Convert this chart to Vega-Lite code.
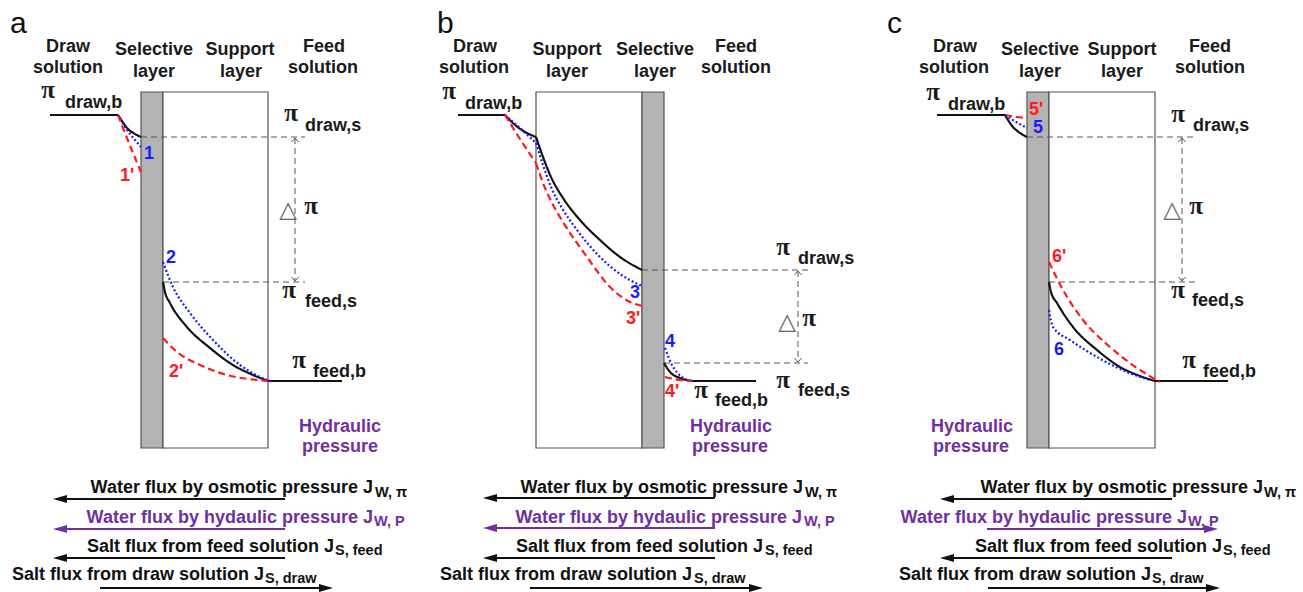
{
  "$schema": "https://vega.github.io/schema/vega-lite/v6.json",
  "width": 1303,
  "height": 592,
  "autosize": {"type": "fit", "contains": "padding"},
  "padding": 0,
  "background": "white",
  "config": {"view": {"stroke": null}},
  "datasets": {
    "boxes": [
      {"part": "selective", "x0": 141, "x1": 163, "y0": 92, "y1": 448},
      {"part": "support", "x0": 163, "x1": 268, "y0": 92, "y1": 448},
      {"part": "support", "x0": 536, "x1": 642, "y0": 92, "y1": 448},
      {"part": "selective", "x0": 642, "x1": 664, "y0": 92, "y1": 448},
      {"part": "selective", "x0": 1027, "x1": 1049, "y0": 92, "y1": 448},
      {"part": "support", "x0": 1049, "x1": 1155, "y0": 92, "y1": 448}
    ],
    "guides": [
      {"x0": 141, "x1": 305, "y0": 137, "y1": 137},
      {"x0": 163, "x1": 305, "y0": 282, "y1": 282},
      {"x0": 295, "x1": 295, "y0": 138, "y1": 281},
      {"x0": 642, "x1": 808, "y0": 270, "y1": 270},
      {"x0": 664, "x1": 808, "y0": 363, "y1": 363},
      {"x0": 798, "x1": 798, "y0": 271, "y1": 362},
      {"x0": 1027, "x1": 1195, "y0": 137, "y1": 137},
      {"x0": 1049, "x1": 1195, "y0": 282, "y1": 282},
      {"x0": 1182, "x1": 1182, "y0": 138, "y1": 281}
    ],
    "guideHeads": [
      {"g": "a_t", "x": 291.5, "y": 142}, {"g": "a_t", "x": 295, "y": 138}, {"g": "a_t", "x": 298.5, "y": 142},
      {"g": "a_b", "x": 291.5, "y": 277}, {"g": "a_b", "x": 295, "y": 281}, {"g": "a_b", "x": 298.5, "y": 277},
      {"g": "b_t", "x": 794.5, "y": 275}, {"g": "b_t", "x": 798, "y": 271}, {"g": "b_t", "x": 801.5, "y": 275},
      {"g": "b_b", "x": 794.5, "y": 358}, {"g": "b_b", "x": 798, "y": 362}, {"g": "b_b", "x": 801.5, "y": 358},
      {"g": "c_t", "x": 1178.5, "y": 142}, {"g": "c_t", "x": 1182, "y": 138}, {"g": "c_t", "x": 1185.5, "y": 142},
      {"g": "c_b", "x": 1178.5, "y": 277}, {"g": "c_b", "x": 1182, "y": 281}, {"g": "c_b", "x": 1185.5, "y": 277}
    ],
    "profiles": [
      {"c": "a0", "kind": "actual", "x": 50, "y": 115}, {"c": "a0", "kind": "actual", "x": 118, "y": 115},
      {"c": "a1", "kind": "actual", "x": 118, "y": 115}, {"c": "a1", "kind": "actual", "x": 122, "y": 121}, {"c": "a1", "kind": "actual", "x": 128, "y": 129}, {"c": "a1", "kind": "actual", "x": 135, "y": 134}, {"c": "a1", "kind": "actual", "x": 141, "y": 137},
      {"c": "a1b", "kind": "base", "x": 118, "y": 115}, {"c": "a1b", "kind": "base", "x": 127, "y": 130}, {"c": "a1b", "kind": "base", "x": 135, "y": 140}, {"c": "a1b", "kind": "base", "x": 141, "y": 147},
      {"c": "a1r", "kind": "prime", "x": 118, "y": 115}, {"c": "a1r", "kind": "prime", "x": 125, "y": 133}, {"c": "a1r", "kind": "prime", "x": 133, "y": 153}, {"c": "a1r", "kind": "prime", "x": 141, "y": 172},
      {"c": "a2", "kind": "actual", "x": 163, "y": 282}, {"c": "a2", "kind": "actual", "x": 165, "y": 292}, {"c": "a2", "kind": "actual", "x": 170, "y": 303}, {"c": "a2", "kind": "actual", "x": 187, "y": 327}, {"c": "a2", "kind": "actual", "x": 210, "y": 348}, {"c": "a2", "kind": "actual", "x": 233, "y": 365}, {"c": "a2", "kind": "actual", "x": 253, "y": 375}, {"c": "a2", "kind": "actual", "x": 268, "y": 381},
      {"c": "a3", "kind": "actual", "x": 268, "y": 381}, {"c": "a3", "kind": "actual", "x": 342, "y": 381},
      {"c": "a2b", "kind": "base", "x": 163, "y": 262}, {"c": "a2b", "kind": "base", "x": 173, "y": 287}, {"c": "a2b", "kind": "base", "x": 190, "y": 313}, {"c": "a2b", "kind": "base", "x": 213, "y": 340}, {"c": "a2b", "kind": "base", "x": 240, "y": 365}, {"c": "a2b", "kind": "base", "x": 260, "y": 377}, {"c": "a2b", "kind": "base", "x": 273, "y": 382},
      {"c": "a2r", "kind": "prime", "x": 163, "y": 338}, {"c": "a2r", "kind": "prime", "x": 177, "y": 352}, {"c": "a2r", "kind": "prime", "x": 200, "y": 365}, {"c": "a2r", "kind": "prime", "x": 227, "y": 375}, {"c": "a2r", "kind": "prime", "x": 257, "y": 380}, {"c": "a2r", "kind": "prime", "x": 268, "y": 381},
      {"c": "b0", "kind": "actual", "x": 458, "y": 115}, {"c": "b0", "kind": "actual", "x": 505, "y": 115},
      {"c": "b1", "kind": "actual", "x": 505, "y": 115}, {"c": "b1", "kind": "actual", "x": 515, "y": 125}, {"c": "b1", "kind": "actual", "x": 527, "y": 133}, {"c": "b1", "kind": "actual", "x": 536, "y": 137},
      {"c": "b2", "kind": "actual", "x": 536, "y": 137}, {"c": "b2", "kind": "actual", "x": 543, "y": 157}, {"c": "b2", "kind": "actual", "x": 551, "y": 177}, {"c": "b2", "kind": "actual", "x": 563, "y": 198}, {"c": "b2", "kind": "actual", "x": 580, "y": 220}, {"c": "b2", "kind": "actual", "x": 600, "y": 240}, {"c": "b2", "kind": "actual", "x": 620, "y": 257}, {"c": "b2", "kind": "actual", "x": 642, "y": 270},
      {"c": "b1b", "kind": "base", "x": 505, "y": 115}, {"c": "b1b", "kind": "base", "x": 521, "y": 129}, {"c": "b1b", "kind": "base", "x": 536, "y": 143},
      {"c": "b2b", "kind": "base", "x": 536, "y": 143}, {"c": "b2b", "kind": "base", "x": 543, "y": 165}, {"c": "b2b", "kind": "base", "x": 551, "y": 187}, {"c": "b2b", "kind": "base", "x": 562, "y": 208}, {"c": "b2b", "kind": "base", "x": 577, "y": 230}, {"c": "b2b", "kind": "base", "x": 598, "y": 255}, {"c": "b2b", "kind": "base", "x": 620, "y": 274}, {"c": "b2b", "kind": "base", "x": 642, "y": 286},
      {"c": "b1r", "kind": "prime", "x": 505, "y": 115}, {"c": "b1r", "kind": "prime", "x": 520, "y": 139}, {"c": "b1r", "kind": "prime", "x": 536, "y": 163},
      {"c": "b2r", "kind": "prime", "x": 536, "y": 163}, {"c": "b2r", "kind": "prime", "x": 543, "y": 183}, {"c": "b2r", "kind": "prime", "x": 552, "y": 203}, {"c": "b2r", "kind": "prime", "x": 563, "y": 222}, {"c": "b2r", "kind": "prime", "x": 587, "y": 257}, {"c": "b2r", "kind": "prime", "x": 610, "y": 287}, {"c": "b2r", "kind": "prime", "x": 630, "y": 302}, {"c": "b2r", "kind": "prime", "x": 642, "y": 306},
      {"c": "b3", "kind": "actual", "x": 664, "y": 363}, {"c": "b3", "kind": "actual", "x": 670, "y": 372}, {"c": "b3", "kind": "actual", "x": 680, "y": 378}, {"c": "b3", "kind": "actual", "x": 693, "y": 381},
      {"c": "b4", "kind": "actual", "x": 693, "y": 381}, {"c": "b4", "kind": "actual", "x": 756, "y": 381},
      {"c": "b3b", "kind": "base", "x": 665, "y": 348}, {"c": "b3b", "kind": "base", "x": 672, "y": 365}, {"c": "b3b", "kind": "base", "x": 682, "y": 377}, {"c": "b3b", "kind": "base", "x": 692, "y": 381},
      {"c": "b3r", "kind": "prime", "x": 665, "y": 377}, {"c": "b3r", "kind": "prime", "x": 680, "y": 380}, {"c": "b3r", "kind": "prime", "x": 692, "y": 381},
      {"c": "c0", "kind": "actual", "x": 937, "y": 115}, {"c": "c0", "kind": "actual", "x": 1005, "y": 115},
      {"c": "c1", "kind": "actual", "x": 1005, "y": 115}, {"c": "c1", "kind": "actual", "x": 1013, "y": 127}, {"c": "c1", "kind": "actual", "x": 1020, "y": 133}, {"c": "c1", "kind": "actual", "x": 1027, "y": 137},
      {"c": "c1r", "kind": "prime", "x": 1005, "y": 115}, {"c": "c1r", "kind": "prime", "x": 1016, "y": 117}, {"c": "c1r", "kind": "prime", "x": 1027, "y": 118},
      {"c": "c1b", "kind": "base", "x": 1005, "y": 115}, {"c": "c1b", "kind": "base", "x": 1016, "y": 122}, {"c": "c1b", "kind": "base", "x": 1027, "y": 128},
      {"c": "c2", "kind": "actual", "x": 1049, "y": 282}, {"c": "c2", "kind": "actual", "x": 1051, "y": 292}, {"c": "c2", "kind": "actual", "x": 1057, "y": 303}, {"c": "c2", "kind": "actual", "x": 1073, "y": 327}, {"c": "c2", "kind": "actual", "x": 1097, "y": 350}, {"c": "c2", "kind": "actual", "x": 1120, "y": 367}, {"c": "c2", "kind": "actual", "x": 1140, "y": 376}, {"c": "c2", "kind": "actual", "x": 1155, "y": 381},
      {"c": "c3", "kind": "actual", "x": 1155, "y": 381}, {"c": "c3", "kind": "actual", "x": 1228, "y": 381},
      {"c": "c2r", "kind": "prime", "x": 1049, "y": 262}, {"c": "c2r", "kind": "prime", "x": 1063, "y": 290}, {"c": "c2r", "kind": "prime", "x": 1083, "y": 320}, {"c": "c2r", "kind": "prime", "x": 1110, "y": 347}, {"c": "c2r", "kind": "prime", "x": 1137, "y": 368}, {"c": "c2r", "kind": "prime", "x": 1160, "y": 382},
      {"c": "c2b", "kind": "base", "x": 1049, "y": 310}, {"c": "c2b", "kind": "base", "x": 1053, "y": 327}, {"c": "c2b", "kind": "base", "x": 1070, "y": 340}, {"c": "c2b", "kind": "base", "x": 1097, "y": 357}, {"c": "c2b", "kind": "base", "x": 1127, "y": 372}, {"c": "c2b", "kind": "base", "x": 1150, "y": 380}
    ],
    "fluxLines": [
      {"kind": "osmotic", "x0": 56, "x1": 285, "y": 499},
      {"kind": "hydraulic", "x0": 56, "x1": 285, "y": 529},
      {"kind": "salt", "x0": 56, "x1": 285, "y": 558},
      {"kind": "salt", "x0": 100, "x1": 330, "y": 588},
      {"kind": "osmotic", "x0": 486, "x1": 715, "y": 498},
      {"kind": "hydraulic", "x0": 486, "x1": 715, "y": 528},
      {"kind": "salt", "x0": 486, "x1": 715, "y": 558},
      {"kind": "salt", "x0": 530, "x1": 760, "y": 588},
      {"kind": "osmotic", "x0": 943, "x1": 1172, "y": 499},
      {"kind": "hydraulic", "x0": 987, "x1": 1215, "y": 529},
      {"kind": "salt", "x0": 943, "x1": 1172, "y": 558},
      {"kind": "salt", "x0": 988, "x1": 1217, "y": 588}
    ],
    "fluxHeads": [
      {"kind": "osmotic", "dir": "left", "x": 53, "y": 499},
      {"kind": "hydraulic", "dir": "left", "x": 53, "y": 529},
      {"kind": "salt", "dir": "left", "x": 53, "y": 558},
      {"kind": "salt", "dir": "right", "x": 333, "y": 588},
      {"kind": "osmotic", "dir": "left", "x": 483, "y": 498},
      {"kind": "hydraulic", "dir": "left", "x": 483, "y": 528},
      {"kind": "salt", "dir": "left", "x": 483, "y": 558},
      {"kind": "salt", "dir": "right", "x": 763, "y": 588},
      {"kind": "osmotic", "dir": "left", "x": 940, "y": 499},
      {"kind": "hydraulic", "dir": "right", "x": 1218, "y": 529},
      {"kind": "salt", "dir": "left", "x": 940, "y": 558},
      {"kind": "salt", "dir": "right", "x": 1220, "y": 588}
    ],
    "letters": [
      {"t": "a", "x": 10, "y": 33},
      {"t": "b", "x": 437, "y": 33},
      {"t": "c", "x": 887, "y": 33}
    ],
    "headers": [
      {"t": "Draw", "x": 68, "y": 52}, {"t": "solution", "x": 68, "y": 73},
      {"t": "Selective", "x": 154, "y": 55}, {"t": "layer", "x": 154, "y": 77},
      {"t": "Support", "x": 240, "y": 55}, {"t": "layer", "x": 241, "y": 77},
      {"t": "Feed", "x": 324, "y": 52}, {"t": "solution", "x": 323, "y": 73},
      {"t": "Draw", "x": 475, "y": 52}, {"t": "solution", "x": 474, "y": 73},
      {"t": "Support", "x": 567, "y": 55}, {"t": "layer", "x": 567, "y": 77},
      {"t": "Selective", "x": 655, "y": 55}, {"t": "layer", "x": 655, "y": 77},
      {"t": "Feed", "x": 736, "y": 52}, {"t": "solution", "x": 736, "y": 73},
      {"t": "Draw", "x": 955, "y": 52}, {"t": "solution", "x": 954, "y": 73},
      {"t": "Selective", "x": 1040, "y": 55}, {"t": "layer", "x": 1040, "y": 77},
      {"t": "Support", "x": 1122, "y": 55}, {"t": "layer", "x": 1122, "y": 77},
      {"t": "Feed", "x": 1210, "y": 52}, {"t": "solution", "x": 1210, "y": 73}
    ],
    "piSymbols": [
      {"t": "π", "x": 48, "y": 98}, {"t": "π", "x": 291, "y": 121}, {"t": "π", "x": 289, "y": 298}, {"t": "π", "x": 299, "y": 368}, {"t": "π", "x": 311, "y": 214},
      {"t": "π", "x": 449, "y": 99}, {"t": "π", "x": 783, "y": 255}, {"t": "π", "x": 783, "y": 388}, {"t": "π", "x": 701, "y": 398}, {"t": "π", "x": 809, "y": 326},
      {"t": "π", "x": 933, "y": 100}, {"t": "π", "x": 1178, "y": 122}, {"t": "π", "x": 1178, "y": 298}, {"t": "π", "x": 1189, "y": 368}, {"t": "π", "x": 1196, "y": 214}
    ],
    "piSubs": [
      {"t": "draw,b", "x": 65, "y": 108}, {"t": "draw,s", "x": 305, "y": 131}, {"t": "feed,s", "x": 305, "y": 307}, {"t": "feed,b", "x": 313, "y": 377},
      {"t": "draw,b", "x": 465, "y": 109}, {"t": "draw,s", "x": 798, "y": 264}, {"t": "feed,s", "x": 798, "y": 396}, {"t": "feed,b", "x": 715, "y": 406},
      {"t": "draw,b", "x": 948, "y": 110}, {"t": "draw,s", "x": 1193, "y": 131}, {"t": "feed,s", "x": 1192, "y": 306}, {"t": "feed,b", "x": 1203, "y": 377}
    ],
    "deltas": [
      {"t": "△", "x": 288, "y": 210},
      {"t": "△", "x": 787, "y": 322},
      {"t": "△", "x": 1172, "y": 210}
    ],
    "numbers": [
      {"t": "1", "kind": "base", "x": 144, "y": 159}, {"t": "1'", "kind": "prime", "x": 120, "y": 181},
      {"t": "2", "kind": "base", "x": 166, "y": 263}, {"t": "2'", "kind": "prime", "x": 169, "y": 377},
      {"t": "3", "kind": "base", "x": 630, "y": 298}, {"t": "3'", "kind": "prime", "x": 626, "y": 324},
      {"t": "4", "kind": "base", "x": 665, "y": 347}, {"t": "4'", "kind": "prime", "x": 665, "y": 397},
      {"t": "5'", "kind": "prime", "x": 1029, "y": 115}, {"t": "5", "kind": "base", "x": 1033, "y": 133},
      {"t": "6'", "kind": "prime", "x": 1052, "y": 262}, {"t": "6", "kind": "base", "x": 1054, "y": 355}
    ],
    "hydraulicLabels": [
      {"t": "Hydraulic", "kind": "hydraulic", "x": 340, "y": 432}, {"t": "pressure", "kind": "hydraulic", "x": 340, "y": 452},
      {"t": "Hydraulic", "kind": "hydraulic", "x": 731, "y": 432}, {"t": "pressure", "kind": "hydraulic", "x": 730, "y": 452},
      {"t": "Hydraulic", "kind": "hydraulic", "x": 972, "y": 432}, {"t": "pressure", "kind": "hydraulic", "x": 971, "y": 452}
    ],
    "fluxMain": [
      {"t": "Water flux by osmotic pressure J", "kind": "osmotic", "x": 373, "y": 493},
      {"t": "Water flux by hydaulic pressure J", "kind": "hydraulic", "x": 373, "y": 523},
      {"t": "Salt flux from feed solution J", "kind": "salt", "x": 334, "y": 552},
      {"t": "Salt flux from draw solution J", "kind": "salt", "x": 264, "y": 580},
      {"t": "Water flux by osmotic pressure J", "kind": "osmotic", "x": 803, "y": 493},
      {"t": "Water flux by hydaulic pressure J", "kind": "hydraulic", "x": 802, "y": 523},
      {"t": "Salt flux from feed solution J", "kind": "salt", "x": 763, "y": 552},
      {"t": "Salt flux from draw solution J", "kind": "salt", "x": 692, "y": 580},
      {"t": "Water flux by osmotic pressure J", "kind": "osmotic", "x": 1263, "y": 493},
      {"t": "Water flux by hydaulic pressure J", "kind": "hydraulic", "x": 1187, "y": 523},
      {"t": "Salt flux from feed solution J", "kind": "salt", "x": 1222, "y": 552},
      {"t": "Salt flux from draw solution J", "kind": "salt", "x": 1151, "y": 580}
    ],
    "fluxSub": [
      {"t": "W, π", "kind": "osmotic", "x": 375, "y": 497},
      {"t": "W, P", "kind": "hydraulic", "x": 374, "y": 526},
      {"t": "S, feed", "kind": "salt", "x": 335, "y": 555},
      {"t": "S, draw", "kind": "salt", "x": 265, "y": 583},
      {"t": "W, π", "kind": "osmotic", "x": 805, "y": 497},
      {"t": "W, P", "kind": "hydraulic", "x": 804, "y": 526},
      {"t": "S, feed", "kind": "salt", "x": 765, "y": 555},
      {"t": "S, draw", "kind": "salt", "x": 694, "y": 583},
      {"t": "W, π", "kind": "osmotic", "x": 1264, "y": 497},
      {"t": "W, P", "kind": "hydraulic", "x": 1188, "y": 526},
      {"t": "S, feed", "kind": "salt", "x": 1223, "y": 555},
      {"t": "S, draw", "kind": "salt", "x": 1152, "y": 583}
    ]
  },
  "layer": [
    {
      "data": {"name": "boxes"},
      "mark": {"type": "rect", "stroke": "#555555", "strokeWidth": 1.2},
      "encoding": {
        "x": {"field": "x0", "type": "quantitative", "scale": {"domain": [0, 1303], "nice": false, "zero": false}, "axis": null},
        "x2": {"field": "x1"},
        "y": {"field": "y0", "type": "quantitative", "scale": {"domain": [0, 592], "reverse": true, "nice": false, "zero": false}, "axis": null},
        "y2": {"field": "y1"},
        "fill": {"field": "part", "type": "nominal", "scale": {"domain": ["selective", "support"], "range": ["#b3b3b3", "#ffffff"]}, "legend": null}
      }
    },
    {
      "data": {"name": "guides"},
      "mark": {"type": "rule", "stroke": "#555555", "strokeWidth": 1, "strokeDash": [6, 4]},
      "encoding": {
        "x": {"field": "x0", "type": "quantitative", "axis": null},
        "x2": {"field": "x1"},
        "y": {"field": "y0", "type": "quantitative", "axis": null},
        "y2": {"field": "y1"}
      }
    },
    {
      "data": {"name": "guideHeads"},
      "mark": {"type": "line", "stroke": "#555555", "strokeWidth": 1},
      "encoding": {
        "x": {"field": "x", "type": "quantitative", "axis": null},
        "y": {"field": "y", "type": "quantitative", "axis": null},
        "detail": {"field": "g", "type": "nominal"}
      }
    },
    {
      "data": {"name": "profiles"},
      "mark": {"type": "line", "interpolate": "monotone", "strokeWidth": 2.2},
      "encoding": {
        "x": {"field": "x", "type": "quantitative", "axis": null},
        "y": {"field": "y", "type": "quantitative", "axis": null},
        "detail": {"field": "c", "type": "nominal"},
        "color": {"field": "kind", "type": "nominal", "scale": {"domain": ["actual", "base", "prime", "osmotic", "hydraulic", "salt"], "range": ["#111111", "#1a1aff", "#ff1a1a", "#111111", "#7030a0", "#111111"]}, "legend": null},
        "strokeDash": {"field": "kind", "type": "nominal", "scale": {"domain": ["actual", "base", "prime"], "range": [[1, 0], [2, 2.2], [7, 4]]}, "legend": null}
      }
    },
    {
      "data": {"name": "fluxLines"},
      "mark": {"type": "rule", "strokeWidth": 1.8},
      "encoding": {
        "x": {"field": "x0", "type": "quantitative", "axis": null},
        "x2": {"field": "x1"},
        "y": {"field": "y", "type": "quantitative", "axis": null},
        "color": {"field": "kind", "type": "nominal", "legend": null}
      }
    },
    {
      "data": {"name": "fluxHeads"},
      "mark": {"type": "point", "filled": true, "opacity": 1, "size": 196},
      "encoding": {
        "x": {"field": "x", "type": "quantitative", "axis": null},
        "y": {"field": "y", "type": "quantitative", "axis": null},
        "color": {"field": "kind", "type": "nominal", "legend": null},
        "shape": {"field": "dir", "type": "nominal", "scale": {"domain": ["left", "right"], "range": ["M0,0L2,-0.57L2,0.57Z", "M0,0L-2,-0.57L-2,0.57Z"]}, "legend": null}
      }
    },
    {
      "data": {"name": "letters"},
      "mark": {"type": "text", "font": "Liberation Sans", "fontSize": 30, "align": "left", "baseline": "alphabetic", "fill": "#111111"},
      "encoding": {
        "x": {"field": "x", "type": "quantitative", "axis": null},
        "y": {"field": "y", "type": "quantitative", "axis": null},
        "text": {"field": "t"}
      }
    },
    {
      "data": {"name": "headers"},
      "mark": {"type": "text", "font": "Liberation Sans", "fontWeight": "bold", "fontSize": 18, "align": "center", "baseline": "alphabetic", "fill": "#1a1a1a"},
      "encoding": {
        "x": {"field": "x", "type": "quantitative", "axis": null},
        "y": {"field": "y", "type": "quantitative", "axis": null},
        "text": {"field": "t"}
      }
    },
    {
      "data": {"name": "piSymbols"},
      "mark": {"type": "text", "font": "Liberation Serif", "fontWeight": "bold", "fontSize": 25, "align": "center", "baseline": "alphabetic", "fill": "#1a1a1a"},
      "encoding": {
        "x": {"field": "x", "type": "quantitative", "axis": null},
        "y": {"field": "y", "type": "quantitative", "axis": null},
        "text": {"field": "t"}
      }
    },
    {
      "data": {"name": "piSubs"},
      "mark": {"type": "text", "font": "Liberation Sans", "fontWeight": "bold", "fontSize": 18, "align": "left", "baseline": "alphabetic", "fill": "#1a1a1a"},
      "encoding": {
        "x": {"field": "x", "type": "quantitative", "axis": null},
        "y": {"field": "y", "type": "quantitative", "axis": null},
        "text": {"field": "t"}
      }
    },
    {
      "data": {"name": "deltas"},
      "mark": {"type": "text", "font": "DejaVu Sans", "fontSize": 23, "align": "center", "baseline": "middle", "fill": "#666666"},
      "encoding": {
        "x": {"field": "x", "type": "quantitative", "axis": null},
        "y": {"field": "y", "type": "quantitative", "axis": null},
        "text": {"field": "t"}
      }
    },
    {
      "data": {"name": "numbers"},
      "mark": {"type": "text", "font": "Liberation Sans", "fontWeight": "bold", "fontSize": 18, "align": "left", "baseline": "alphabetic"},
      "encoding": {
        "x": {"field": "x", "type": "quantitative", "axis": null},
        "y": {"field": "y", "type": "quantitative", "axis": null},
        "text": {"field": "t"},
        "color": {"field": "kind", "type": "nominal", "legend": null}
      }
    },
    {
      "data": {"name": "hydraulicLabels"},
      "mark": {"type": "text", "font": "Liberation Sans", "fontWeight": "bold", "fontSize": 18, "align": "center", "baseline": "alphabetic"},
      "encoding": {
        "x": {"field": "x", "type": "quantitative", "axis": null},
        "y": {"field": "y", "type": "quantitative", "axis": null},
        "text": {"field": "t"},
        "color": {"field": "kind", "type": "nominal", "legend": null}
      }
    },
    {
      "data": {"name": "fluxMain"},
      "mark": {"type": "text", "font": "Liberation Sans", "fontWeight": "bold", "fontSize": 18, "align": "right", "baseline": "alphabetic"},
      "encoding": {
        "x": {"field": "x", "type": "quantitative", "axis": null},
        "y": {"field": "y", "type": "quantitative", "axis": null},
        "text": {"field": "t"},
        "color": {"field": "kind", "type": "nominal", "legend": null}
      }
    },
    {
      "data": {"name": "fluxSub"},
      "mark": {"type": "text", "font": "Liberation Sans", "fontWeight": "bold", "fontSize": 14.5, "align": "left", "baseline": "alphabetic"},
      "encoding": {
        "x": {"field": "x", "type": "quantitative", "axis": null},
        "y": {"field": "y", "type": "quantitative", "axis": null},
        "text": {"field": "t"},
        "color": {"field": "kind", "type": "nominal", "legend": null}
      }
    }
  ]
}
